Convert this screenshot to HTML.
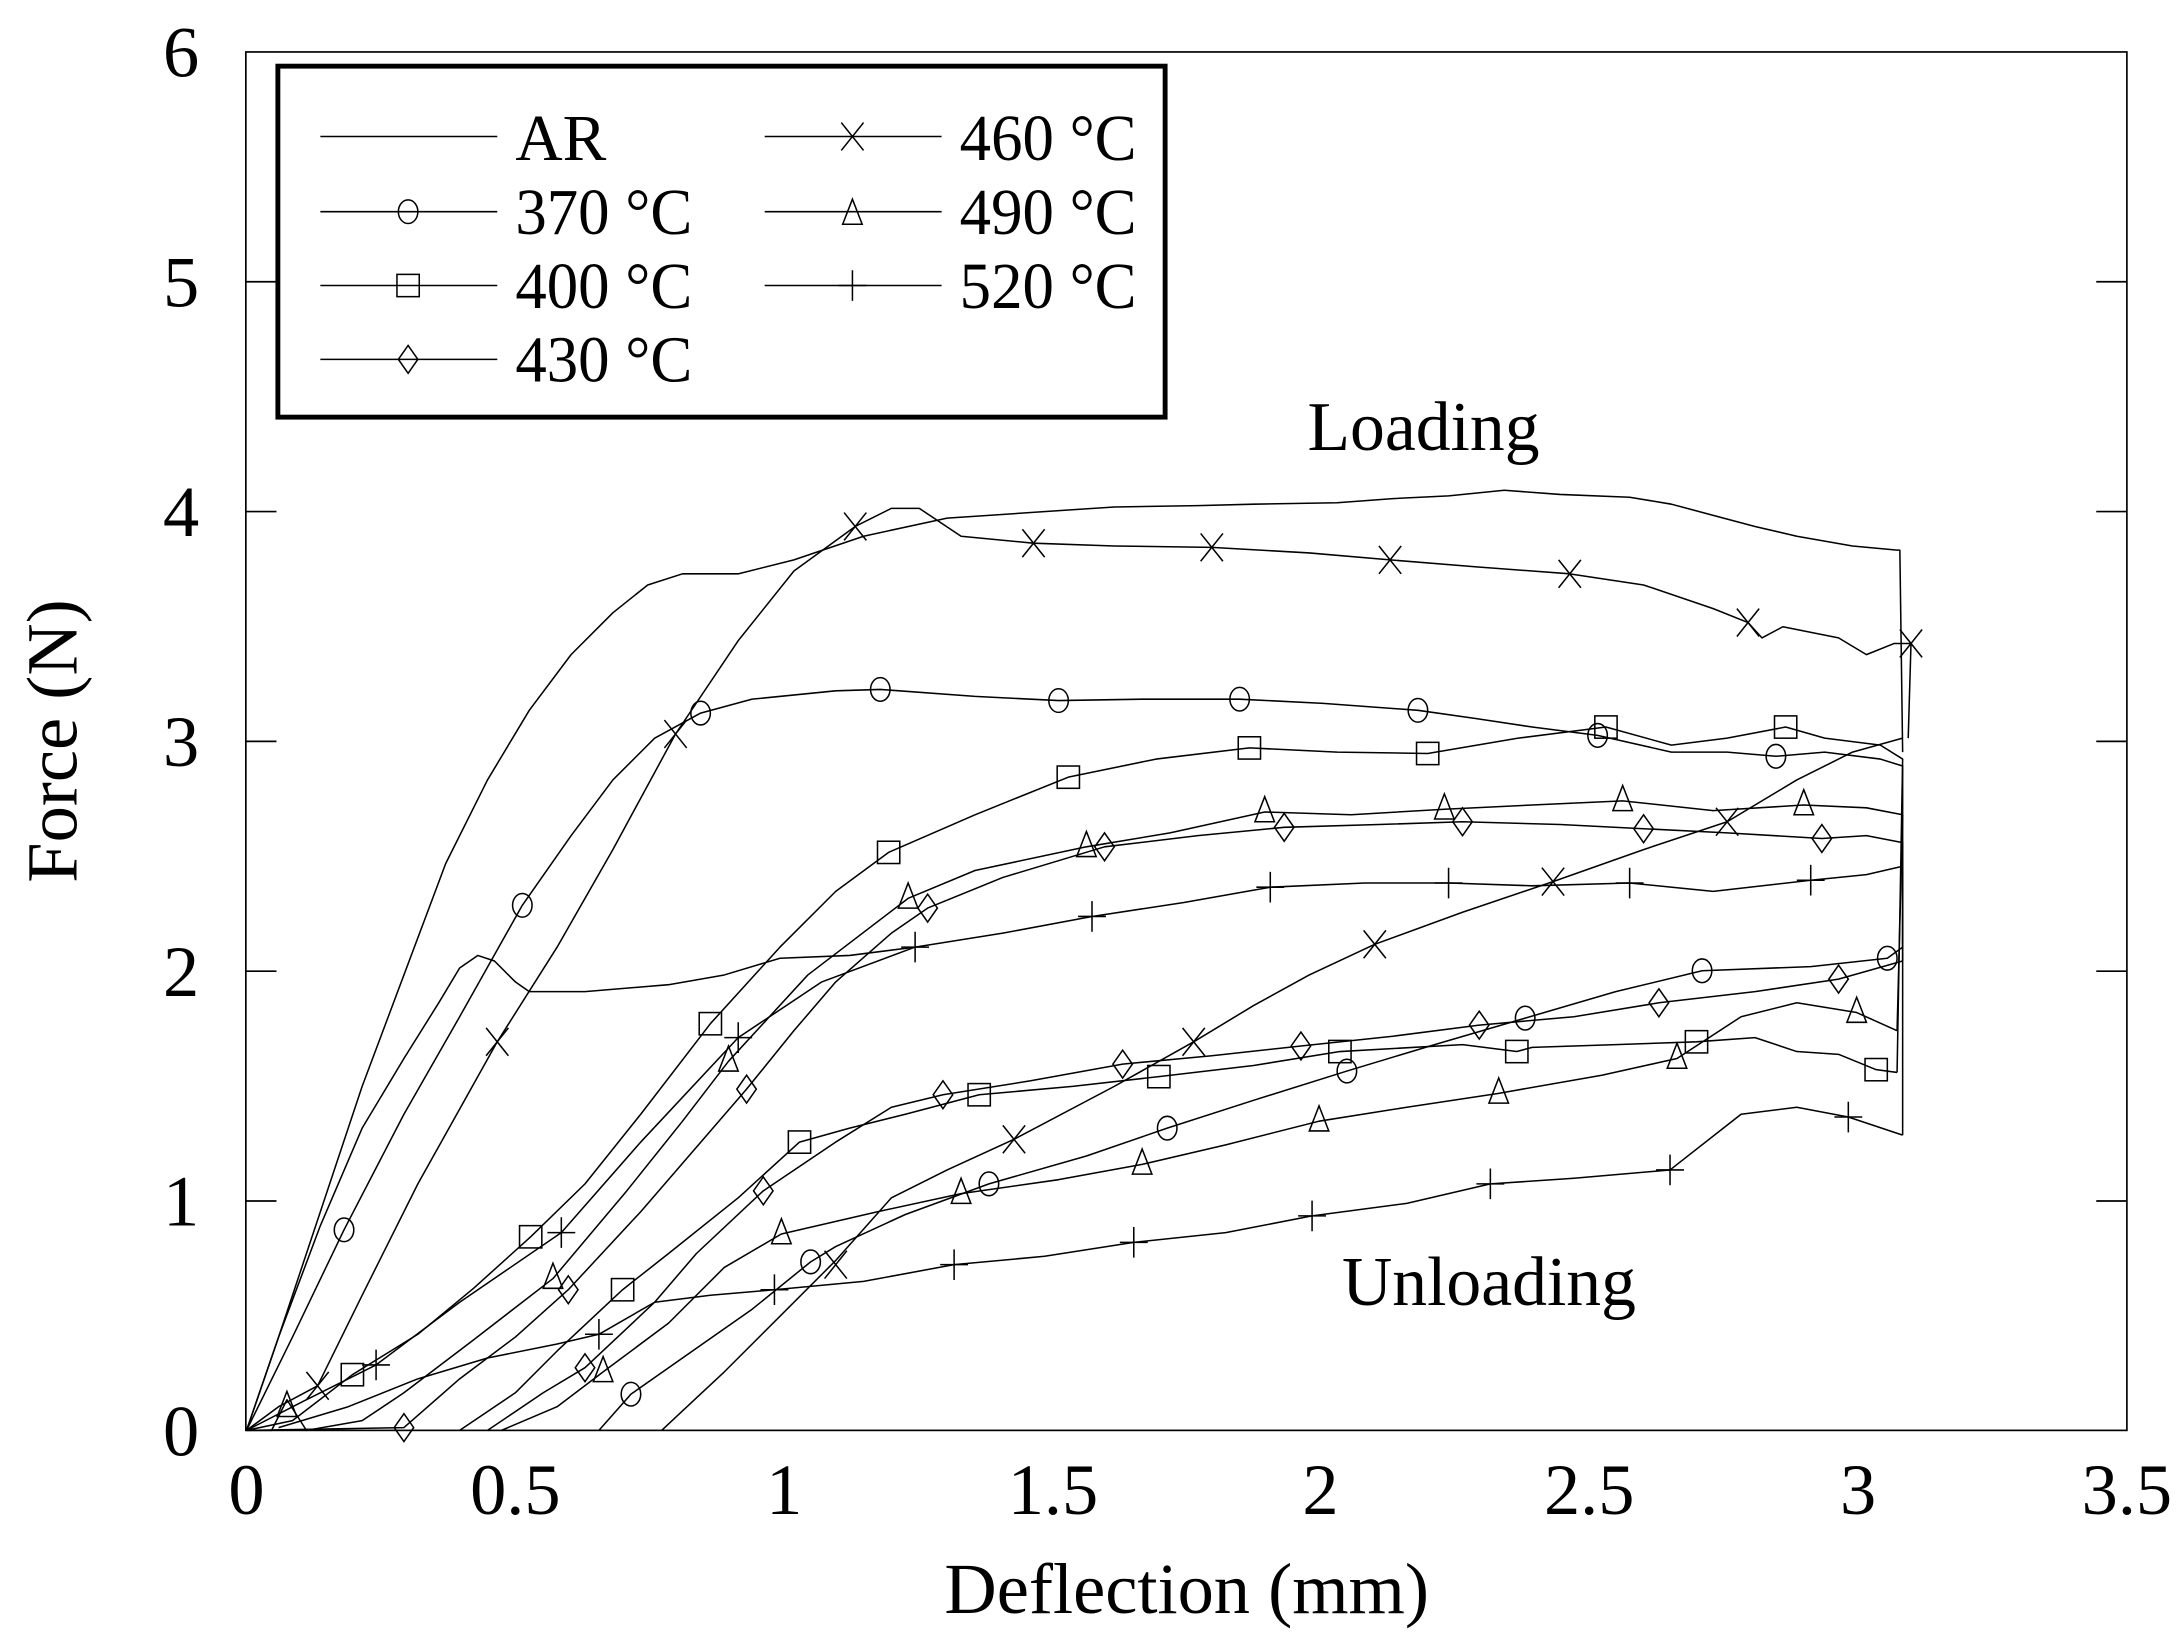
<!DOCTYPE html>
<html><head><meta charset="utf-8"><style>
html,body{margin:0;padding:0;background:#fff;}
svg{display:block;}
text{font-family:"Liberation Serif",serif;fill:#000;}
</style></head><body>
<svg width="2184" height="1651" viewBox="0 0 1568 1185.4" preserveAspectRatio="none" xmlns="http://www.w3.org/2000/svg">
<defs>
<g id="mc"><ellipse cx="0" cy="0" rx="7" ry="8.5" fill="none" stroke="#000" stroke-width="1.1"/></g>
<g id="ms"><rect x="-8" y="-8" width="16" height="16" fill="none" stroke="#000" stroke-width="1.1"/></g>
<g id="md"><path d="M0,-10 L7,0 L0,10 L-7,0 Z" fill="none" stroke="#000" stroke-width="1.1"/></g>
<g id="mt"><path d="M0,-11 L7,7 L-7,7 Z" fill="none" stroke="#000" stroke-width="1.1"/></g>
<g id="mx"><path d="M-8,-10 L8,10 M8,-10 L-8,10" stroke="#000" stroke-width="1.1"/></g>
<g id="mp"><path d="M-10,0 L10,0 M0,-11 L0,11" stroke="#000" stroke-width="1.1"/></g>
</defs>
<rect x="0" y="0" width="1568" height="1185.4" fill="#fff"/>
<!-- axes -->
<rect x="176.5" y="37.3" width="1350.5" height="989.7" fill="none" stroke="#000" stroke-width="1.2"/>
<g stroke="#000" stroke-width="1.2">
<path d="M176.5,202.3h22M176.5,367.3h22M176.5,532.3h22M176.5,697.3h22M176.5,862.3h22"/>
<path d="M1527,202.3h-22M1527,367.3h-22M1527,532.3h-22M1527,697.3h-22M1527,862.3h-22"/>
</g>
<g font-size="52" text-anchor="end">
<text x="143" y="1045">0</text><text x="143" y="880">1</text><text x="143" y="715">2</text>
<text x="143" y="550">3</text><text x="143" y="385">4</text><text x="143" y="220">5</text><text x="143" y="55">6</text>
</g>
<g font-size="52" text-anchor="middle">
<text x="177" y="1087">0</text><text x="370" y="1087">0.5</text><text x="563" y="1087">1</text>
<text x="756" y="1087">1.5</text><text x="948" y="1087">2</text><text x="1141" y="1087">2.5</text>
<text x="1334" y="1087">3</text><text x="1527" y="1087">3.5</text>
</g>
<text x="852" y="1158" font-size="52" text-anchor="middle">Deflection (mm)</text>
<text x="0" y="0" font-size="52" text-anchor="middle" transform="translate(55,532) rotate(-90)">Force (N)</text>
<text x="1022" y="323" font-size="50" text-anchor="middle">Loading</text>
<text x="1069" y="937" font-size="50" text-anchor="middle">Unloading</text>

<g fill="none" stroke="#000" stroke-width="1.1" stroke-linejoin="round">
<!-- AR -->
<polyline points="177,1027 200,960 230,870 260,780 290,700 320,620 350,560 380,510 410,470 440,440 465,420 490,412 530,412 570,402 620,385 680,372 740,368 800,364 860,363 900,362 960,361 1000,358 1040,356 1080,352 1120,355 1170,357 1200,362 1230,370 1260,378 1290,385 1330,392 1362,395 1364,395 1366,540"/>
<!-- 370 -->
<polyline points="177,1027 210,960 247,883 290,800 330,730 375,650 410,600 440,560 470,530 503,512 540,502 600,496 632,495 700,500 760,503 820,502 890,502 950,505 1018,510 1060,516 1100,522 1147,528 1200,540 1240,540 1275,543 1310,540 1350,545 1366,550 1366,680"/>
<polyline points="1366,680 1355,688 1300,694 1222,697 1160,712 1095,731 1030,750 967,769 900,790 838,810 780,830 710,850 650,872 600,895 582,906 540,940 500,968 453,1001 430,1027"/>
<!-- 460 -->
<polyline points="177,1027 200,1010 228,995 260,930 300,850 357,748 400,680 440,610 485,527 530,460 570,410 614,378 640,365 660,365 690,385 742,390 800,392 870,393 940,397 998,402 1060,407 1127,412 1180,420 1230,437 1255,447 1265,458 1280,450 1320,458 1340,470 1360,462 1372,462 1370,530"/>
<polyline points="1366,530 1330,540 1290,560 1240,590 1180,610 1115,633 1050,655 987,678 940,700 900,722 857,748 800,780 728,818 680,840 640,860 600,905 560,945 520,985 475,1027"/>
<!-- 400 -->
<polyline points="177,1027 210,1020 253,987 300,958 340,925 381,888 420,850 460,800 510,735 560,680 600,640 638,612 700,585 767,558 830,545 897,537 960,540 1025,541 1090,530 1153,522 1200,535 1240,530 1282,522 1310,530 1350,535 1366,545 1362,770"/>
<polyline points="1362,770 1347,768 1320,757 1290,755 1260,745 1218,748 1160,750 1100,752 1089,755 1050,750 962,755 900,765 832,773 770,780 703,786 650,800 610,810 574,820 530,860 480,900 447,926 400,970 370,1000 330,1027"/>
<!-- 430 -->
<polyline points="177,1027 290,1025 330,990 370,960 408,926 460,870 536,782 570,740 600,705 640,670 666,652 720,630 793,608 860,600 922,594 990,592 1050,590 1120,592 1180,595 1240,598 1308,602 1340,600 1366,605 1366,690"/>
<polyline points="1366,690 1320,703 1260,712 1191,720 1130,730 1062,736 1000,744 934,751 870,758 806,764 740,776 677,786 640,795 600,820 548,855 500,900 470,935 420,982 390,1000 350,1027"/>
<!-- 490 -->
<polyline points="177,1027 195,1027 206,1005 220,1027 260,1020 290,1000 340,962 397,918 450,855 490,805 523,762 580,700 652,645 700,625 780,608 840,598 908,583 970,585 1037,581 1100,578 1165,575 1230,582 1295,578 1340,580 1366,585 1362,740"/>
<polyline points="1362,740 1333,727 1290,720 1250,730 1204,760 1150,772 1076,785 1010,795 947,805 880,822 820,836 760,847 690,857 630,870 561,886 520,910 480,950 433,985 400,1010 360,1027"/>
<!-- 520 -->
<polyline points="177,1027 220,1005 270,980 330,935 403,885 460,820 530,745 590,705 657,680 720,670 784,658 850,648 912,637 980,634 1040,634 1100,636 1170,634 1230,640 1300,632 1340,628 1366,622 1366,815"/>
<polyline points="177,1027 200,960 230,880 260,810 290,760 315,720 330,695 343,686 355,690 370,705 380,712 420,712 480,707 520,700 560,688 610,686 657,680"/>
<polyline points="1366,815 1327,802 1290,795 1250,800 1199,840 1130,846 1070,850 1010,864 942,873 880,885 814,892 750,902 685,908 620,920 556,926 510,930 470,935 430,958 400,965 350,975 300,990 250,1010 200,1025"/>
</g>

<!-- markers -->
<g>
<use href="#mc" x="247" y="883"/><use href="#mc" x="375" y="650"/><use href="#mc" x="503" y="512"/><use href="#mc" x="632" y="495"/><use href="#mc" x="760" y="503"/><use href="#mc" x="890" y="502"/><use href="#mc" x="1018" y="510"/><use href="#mc" x="1147" y="528"/><use href="#mc" x="1275" y="543"/>
<use href="#mc" x="1355" y="688"/><use href="#mc" x="1222" y="697"/><use href="#mc" x="1095" y="731"/><use href="#mc" x="967" y="769"/><use href="#mc" x="838" y="810"/><use href="#mc" x="710" y="850"/><use href="#mc" x="582" y="906"/><use href="#mc" x="453" y="1001"/>
<use href="#mx" x="228" y="995"/><use href="#mx" x="357" y="748"/><use href="#mx" x="485" y="527"/><use href="#mx" x="614" y="378"/><use href="#mx" x="742" y="390"/><use href="#mx" x="870" y="393"/><use href="#mx" x="998" y="402"/><use href="#mx" x="1127" y="412"/><use href="#mx" x="1255" y="447"/><use href="#mx" x="1372" y="462"/>
<use href="#mx" x="1240" y="590"/><use href="#mx" x="1115" y="633"/><use href="#mx" x="987" y="678"/><use href="#mx" x="857" y="748"/><use href="#mx" x="728" y="818"/><use href="#mx" x="600" y="908"/>
<use href="#ms" x="253" y="987"/><use href="#ms" x="381" y="888"/><use href="#ms" x="510" y="735"/><use href="#ms" x="638" y="612"/><use href="#ms" x="767" y="558"/><use href="#ms" x="897" y="537"/><use href="#ms" x="1025" y="541"/><use href="#ms" x="1153" y="522"/><use href="#ms" x="1282" y="522"/>
<use href="#ms" x="1347" y="768"/><use href="#ms" x="1218" y="748"/><use href="#ms" x="1089" y="755"/><use href="#ms" x="962" y="755"/><use href="#ms" x="832" y="773"/><use href="#ms" x="703" y="786"/><use href="#ms" x="574" y="820"/><use href="#ms" x="447" y="926"/>
<use href="#md" x="290" y="1025"/><use href="#md" x="408" y="926"/><use href="#md" x="536" y="782"/><use href="#md" x="666" y="652"/><use href="#md" x="793" y="608"/><use href="#md" x="922" y="594"/><use href="#md" x="1050" y="590"/><use href="#md" x="1180" y="595"/><use href="#md" x="1308" y="602"/>
<use href="#md" x="1320" y="703"/><use href="#md" x="1191" y="720"/><use href="#md" x="1062" y="736"/><use href="#md" x="934" y="751"/><use href="#md" x="806" y="764"/><use href="#md" x="677" y="786"/><use href="#md" x="548" y="855"/><use href="#md" x="420" y="982"/>
<use href="#mt" x="206" y="1010"/><use href="#mt" x="397" y="918"/><use href="#mt" x="523" y="762"/><use href="#mt" x="652" y="645"/><use href="#mt" x="780" y="608"/><use href="#mt" x="908" y="583"/><use href="#mt" x="1037" y="581"/><use href="#mt" x="1165" y="575"/><use href="#mt" x="1295" y="578"/>
<use href="#mt" x="1333" y="727"/><use href="#mt" x="1204" y="760"/><use href="#mt" x="1076" y="785"/><use href="#mt" x="947" y="805"/><use href="#mt" x="820" y="836"/><use href="#mt" x="690" y="857"/><use href="#mt" x="561" y="886"/><use href="#mt" x="433" y="985"/>
<use href="#mp" x="270" y="980"/><use href="#mp" x="403" y="885"/><use href="#mp" x="530" y="745"/><use href="#mp" x="657" y="680"/><use href="#mp" x="784" y="658"/><use href="#mp" x="912" y="637"/><use href="#mp" x="1040" y="634"/><use href="#mp" x="1170" y="634"/><use href="#mp" x="1300" y="632"/>
<use href="#mp" x="1327" y="802"/><use href="#mp" x="1199" y="840"/><use href="#mp" x="1070" y="850"/><use href="#mp" x="942" y="873"/><use href="#mp" x="814" y="892"/><use href="#mp" x="685" y="908"/><use href="#mp" x="556" y="926"/><use href="#mp" x="430" y="958"/>
</g>

<!-- legend -->
<rect x="199.5" y="47.5" width="637" height="252" fill="#fff" stroke="#000" stroke-width="3.5"/>
<g stroke="#000" stroke-width="1.1">
<path d="M230,98H357M230,152H357M230,205H357M230,258H357M549,98H676M549,152H676M549,205H676"/>
</g>
<use href="#mc" x="293" y="152"/><use href="#ms" x="293" y="205"/><use href="#md" x="293" y="258"/>
<use href="#mx" x="612" y="98"/><use href="#mt" x="612" y="154"/><use href="#mp" x="612" y="205"/>
<g font-size="47">
<text x="370" y="115">AR</text>
<text x="370" y="168" textLength="127" lengthAdjust="spacingAndGlyphs">370 °C</text>
<text x="370" y="221" textLength="127" lengthAdjust="spacingAndGlyphs">400 °C</text>
<text x="370" y="274" textLength="127" lengthAdjust="spacingAndGlyphs">430 °C</text>
<text x="689" y="115" textLength="127" lengthAdjust="spacingAndGlyphs">460 °C</text>
<text x="689" y="168" textLength="127" lengthAdjust="spacingAndGlyphs">490 °C</text>
<text x="689" y="221" textLength="127" lengthAdjust="spacingAndGlyphs">520 °C</text>
</g>
</svg>
</body></html>
